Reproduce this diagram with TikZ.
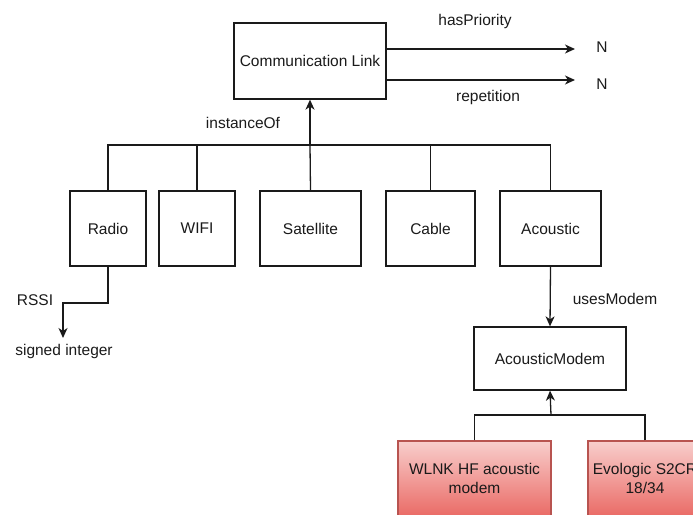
\documentclass[tikz,border=0pt]{standalone}
\usepackage{fontspec}
\setmainfont{Liberation Sans}
\usetikzlibrary{arrows.meta}
\definecolor{ink}{HTML}{1A1A1A}
\definecolor{redstroke}{HTML}{B85450}
\definecolor{redtop}{HTML}{F8CECC}
\definecolor{redbot}{HTML}{EA6B66}
\tikzset{
  box/.style={draw=ink, line width=1.3pt, fill=white, minimum height=75pt, inner sep=0pt, align=center, text=ink},
  modembox/.style={draw=redstroke, line width=1.3pt, top color=redtop, bottom color=redbot, minimum height=75pt, inner sep=0pt, align=center, text=ink},
  lbl/.style={inner sep=0pt, text=ink},
  link/.style={draw=ink, line width=1.3pt},
  arr/.style={link, -{Stealth[length=10pt,width=9pt,inset=3pt]}},
}
\begin{document}
\begin{tikzpicture}[x=1pt,y=-1pt,font=\fontsize{15.5}{18.5}\selectfont]
\useasboundingbox (0,0) rectangle (693,514);
\clip (0,0) rectangle (693,514);

% class and its attributes
\node[box, minimum width=152pt, minimum height=76pt] (cl) at (310,61) {Communication Link};
\node[lbl] (n1) at (602,47) {N};
\node[lbl] (n2) at (602,84) {N};
\coordinate (t1) at (575,49);
\coordinate (t2) at (575,80);
\draw[arr] (cl.east |- t1) -- (t1);
\draw[arr] (cl.east |- t2) -- (t2);
\node[lbl] (hp) at (475,21) {hasPriority};
\node[lbl] (rep) at (488,97) {repetition};

% link kinds
\node[box, minimum width=76pt] (radio) at (108,228.5) {Radio};
\node[box, minimum width=76pt] (wifi) at (197,228.5) {WIFI};
\node[box, minimum width=101pt] (sat) at (310.5,228.5) {Satellite};
\node[box, minimum width=89pt] (cable) at (430.5,228.5) {Cable};
\node[box, minimum width=101pt] (acou) at (550.5,228.5) {Acoustic};

\coordinate (bus) at (310,145);
\draw[link] (radio.north) |- (bus);
\draw[link] (wifi.north) |- (bus);
\draw[link] (cable.north) |- (bus);
\draw[link] (acou.north) |- (bus);
\draw[link] (sat.north) -- (bus);
\draw[arr] (bus) -- (cl.south);
\node[lbl] (inst) at (243,123) {instanceOf};

% radio attribute
\node[lbl] (si) at (64,351) {signed integer};
\node[lbl] (rssi) at (35,300) {RSSI};
\coordinate (rb) at (63,303);
\coordinate (rt) at (63,338);
\draw[arr] (radio.south) |- (rb) -- (rt);

% acoustic modem
\node[box, minimum width=152pt, minimum height=63pt] (am) at (550,358.5) {AcousticModem};
\draw[arr] (acou.south) -- (am.north);
\node[lbl] (um) at (615,299) {usesModem};

\node[modembox, minimum width=153pt] (wlnk) at (474.5,478.5) {WLNK HF acoustic\\modem};
\node[modembox, minimum width=114pt] (evo) at (645,478.5) {Evologic S2CR\\18/34};
\coordinate (mb) at (551,415);
\draw[link] (wlnk.north) |- (mb);
\draw[link] (evo.north) |- (mb);
\draw[arr] (mb) -- (am.south);
\end{tikzpicture}
\end{document}
